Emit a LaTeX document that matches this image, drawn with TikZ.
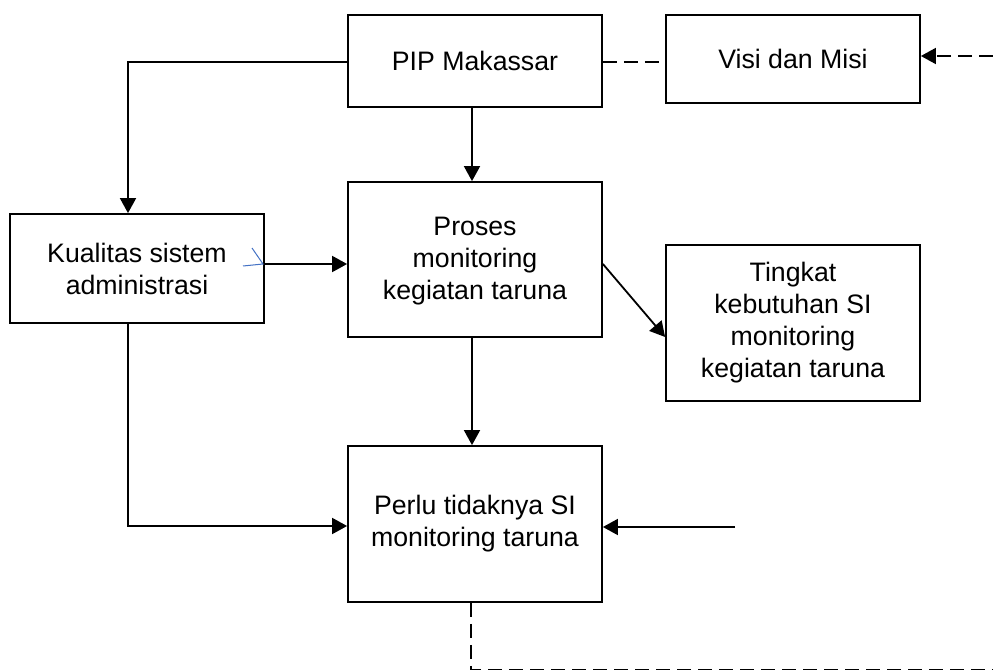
\documentclass[tikz,border=0pt]{standalone}
\usepackage{fontspec}
\setmainfont{Liberation Sans}
\usetikzlibrary{arrows.meta}
\definecolor{markblue}{RGB}{68,114,196}
\tikzset{
  box/.style={draw, line width=1.8pt, rectangle, minimum width=254pt, align=center,
    inner sep=0pt, font=\fontsize{26.7}{32}\selectfont},
  conn/.style={line width=1.8pt},
  arr/.style={conn, -{Triangle[length=15pt,width=16pt]}},
  dashline/.style={conn, dash pattern=on 14pt off 7pt}
}
\begin{document}
\begin{tikzpicture}[x=1pt,y=-1pt]
\useasboundingbox (0,0) rectangle (993,671);
\node[box, minimum height=92pt] (pip) at (475,61) {PIP Makassar};
\node[box, minimum height=88pt] (visi) at (793,59) {Visi dan Misi};
\node[box, minimum height=109pt] (kual) at (137,268.5) {Kualitas sistem\\administrasi};
\node[box, minimum height=155pt] (proses) at (475,259.5) {\strut Proses\\monitoring\\kegiatan taruna};
\node[box, minimum height=156pt] (ting) at (793,323) {Tingkat\\kebutuhan SI\\monitoring\\kegiatan taruna};
\node[box, minimum height=156pt] (perlu) at (475,524) {Perlu tidaknya SI\\monitoring taruna};
\coordinate (rin) at (735,527);
\coordinate (vin) at (993,56);
\coordinate (dend) at (993,669.5);
% connectors
\draw[arr] ([yshift=-1pt]pip.west) -| ([xshift=-9pt]kual.north);
\draw[arr] ([xshift=-3pt]pip.south) -- ([xshift=-3pt]proses.north);
\draw[arr] ([yshift=4.5pt]kual.east) -- ([yshift=4.5pt]kual.east -| proses.west);
\draw[arr] ([yshift=-4.5pt]proses.east) -- ([yshift=-14pt]ting.west);
\draw[arr] ([xshift=-3pt]proses.south) -- ([xshift=-3pt]perlu.north);
\draw[arr] ([xshift=-9pt]kual.south) |- ([yshift=-2pt]perlu.west);
\draw[arr] (rin) -- (rin -| perlu.east);
\draw[dashline] ([yshift=-1pt]pip.east) -- ([yshift=-1pt]pip.east -| visi.west);
\draw[dashline, -{Triangle[length=15pt,width=16pt]}] (vin) -- (vin -| visi.east);
\draw[dashline] ([xshift=-4pt]perlu.south) |- (dend);
% small blue mark
\draw[markblue, line width=1pt] (243,266) -- (263,264) -- (252,248);
\end{tikzpicture}
\end{document}
